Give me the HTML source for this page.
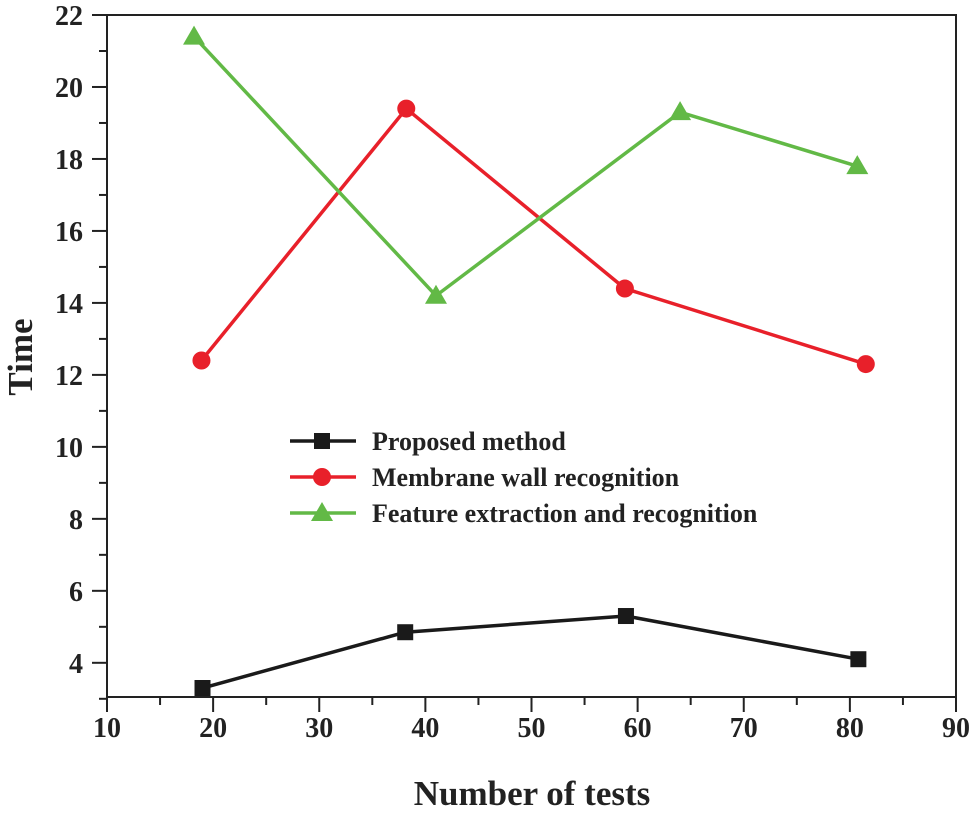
<!DOCTYPE html>
<html><head><meta charset="utf-8"><style>
body{margin:0;background:#fff}
svg{display:block;font-family:"Liberation Serif",serif;font-weight:bold}
</style></head><body>
<svg id="c" width="971" height="816"></svg>
<script>
const xTicks=[10,20,30,40,50,60,70,80,90];
const yTicks=[4,6,8,10,12,14,16,18,20,22];
const seriesNames=["Proposed method","Membrane wall recognition","Feature extraction and recognition"];
const proposedX=[19.0,38.1,58.9,80.8];
const proposedY=[3.3,4.85,5.3,4.1];
const membraneX=[18.9,38.2,58.8,81.5];
const membraneY=[12.4,19.4,14.4,12.3];
const featureX=[18.2,41.0,64.0,80.7];
const featureY=[21.4,14.2,19.3,17.8];

const L=107,R=956,T=15,B=697,xmin=10,xmax=90,ymin=3.05,ymax=22;
const sx=v=>L+(v-xmin)/(xmax-xmin)*(R-L);
const sy=v=>B-(v-ymin)/(ymax-ymin)*(B-T);
const svg=document.getElementById('c');
const NS='http://www.w3.org/2000/svg';
function mk(tag,attrs,parent){const e=document.createElementNS(NS,tag);for(const k in attrs)e.setAttribute(k,attrs[k]);(parent||svg).appendChild(e);return e;}

const frame=mk('rect',{x:L,y:T,width:R-L,height:B-T,fill:'none',stroke:'#222','stroke-width':2});



xTicks.forEach((t,i)=>{
  const x=sx(t);
  const tk=mk('line',{x1:x,y1:B,x2:x,y2:B+15,stroke:'#222','stroke-width':2});
  
  
  if(i<xTicks.length-1){const m=mk('line',{x1:sx(t+5),y1:B,x2:sx(t+5),y2:B+8,stroke:'#222','stroke-width':2});
  
  }
  const lb=mk('text',{x:x,y:B+40,'text-anchor':'middle','font-size':28,fill:'#222'});lb.textContent=t;
  
  
});
yTicks.forEach((t,i)=>{
  const y=sy(t);
  const tk=mk('line',{x1:L-15,y1:y,x2:L,y2:y,stroke:'#222','stroke-width':2});
  
  
  const m=mk('line',{x1:L-8,y1:sy(t-1),x2:L,y2:sy(t-1),stroke:'#222','stroke-width':2});
  
  
  const lb=mk('text',{x:L-24,y:y+10,'text-anchor':'end','font-size':28,fill:'#222'});lb.textContent=t;
  
  
});
const xt=mk('text',{x:532,y:805,'text-anchor':'middle','font-size':35,fill:'#222'});xt.textContent='Number of tests';


const yt=mk('text',{x:0,y:0,'text-anchor':'middle','font-size':35,fill:'#222',transform:'translate(32,357) rotate(-90)'});yt.textContent='Time';



function marker(type,x,y,color,g){
  let e;
  if(type==='sq')e=mk('rect',{x:x-8,y:y-8,width:16,height:16,fill:color},g);
  else if(type==='ci')e=mk('circle',{cx:x,cy:y,r:9,fill:color},g);
  else e=mk('polygon',{points:`${x},${y-11} ${x+11},${y+8} ${x-11},${y+8}`,fill:color},g);
  return e;
}
const series=[
 {xs:proposedX,ys:proposedY,c:'#1a1a1a',m:'sq',n:'proposed'},
 {xs:membraneX,ys:membraneY,c:'#e8202a',m:'ci',n:'membrane'},
 {xs:featureX,ys:featureY,c:'#62b946',m:'tr',n:'feature'}];
series.forEach((s,si)=>{
  const g=mk('g',{});
  
  
  const pts=s.xs.map((x,i)=>sx(x)+','+sy(s.ys[i])).join(' ');
  mk('polyline',{points:pts,fill:'none',stroke:s.c,'stroke-width':3.5},g);
  s.xs.forEach((x,i)=>{const p=marker(s.m,sx(x),sy(s.ys[i]),s.c,g);
    
    });
  const ly=441+si*36;
  const lg=mk('g',{},svg);
  
  
  mk('line',{x1:290,y1:ly,x2:356,y2:ly,stroke:s.c,'stroke-width':3.5},lg);
  marker(s.m,322,ly,s.c,lg);
  const t=mk('text',{x:372,y:ly+9,'font-size':26,fill:'#222'},lg);t.textContent=seriesNames[si];
});
</script>
</body></html>
